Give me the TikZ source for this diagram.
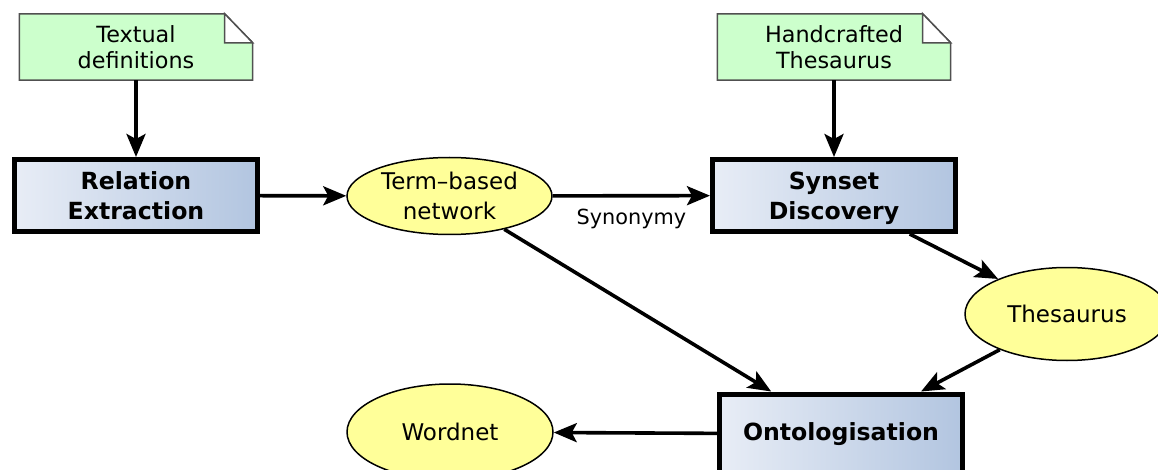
\documentclass[tikz,border=0pt]{standalone}
\usepackage{fontspec}
\setmainfont{DejaVu Sans}
\usetikzlibrary{arrows.meta,shapes.geometric}
\pgfdeclarelayer{background}
\pgfsetlayers{background,main}
\definecolor{notefill}{RGB}{204,255,204}
\definecolor{noteline}{RGB}{80,80,80}
\definecolor{boxleft}{RGB}{232,237,246}
\definecolor{boxright}{RGB}{178,197,224}
\definecolor{datafill}{RGB}{255,255,153}
% invisible rules giving two-line labels a fixed height and depth
\newcommand{\boxtop}{\rule{0pt}{25pt}}
\newcommand{\boxbot}{\rule[-6pt]{0pt}{6pt}}
\newcommand{\notetop}{\rule{0pt}{21.5pt}}
\newcommand{\notebot}{\rule[-4pt]{0pt}{4pt}}
\tikzset{
  procbox/.style={rectangle, draw=black, line width=5pt,
    minimum width=243pt, minimum height=72pt,
    left color=boxleft, right color=boxright,
    font=\bfseries\fontsize{23.6}{30}\selectfont, align=center, inner sep=0pt},
  data/.style={ellipse, draw=black, line width=1.5pt, fill=datafill,
    font=\fontsize{23}{30}\selectfont, align=center, inner sep=0pt},
  note/.style={rectangle, minimum width=233pt, minimum height=66pt,
    font=\fontsize{22.3}{25.5}\selectfont, align=center, inner sep=0pt},
  noteedge/.style={draw=noteline, line width=1.5pt, line join=miter},
  flow/.style={-{Stealth[length=23pt,width=19pt,inset=5pt]}, line width=3.6pt},
  flowlabel/.style={font=\fontsize{20.8}{24}\selectfont, inner sep=0pt},
}
% folded-corner document shape behind a note node
\newcommand{\docshape}[1]{%
  \begin{pgfonlayer}{background}
    \filldraw[noteedge, fill=notefill]
      (#1.north west) -- ([xshift=-28pt]#1.north east)
      -- ([yshift=-29pt]#1.north east) -- (#1.south east)
      -- (#1.south west) -- cycle;
    \filldraw[noteedge, fill=white]
      ([xshift=-28pt]#1.north east) -- ([xshift=-28pt,yshift=-29pt]#1.north east)
      -- ([yshift=-29pt]#1.north east) -- cycle;
  \end{pgfonlayer}}
\begin{document}
\begin{tikzpicture}[x=1pt,y=-1pt]
  \useasboundingbox (0,0) rectangle (1158,470);

  % inputs
  \node[note] (tdef) at (136,47) {\notetop Textual\\definitions\notebot};
  \docshape{tdef}
  \node[note] (hand) at (834,47) {\notetop Handcrafted\\Thesaurus\notebot};
  \docshape{hand}

  % processing steps
  \node[procbox] (rel)  at (136,195.5) {\boxtop Relation\\Extraction\boxbot};
  \node[procbox] (syn)  at (834,195.5) {\boxtop Synset\\Discovery\boxbot};
  \node[procbox, minimum height=80pt] (onto) at (841,434) {Ontologisation};

  % intermediate and final resources
  \node[data, minimum width=205pt, minimum height=77pt] (term) at (449.5,196) {Term–based\\network};
  \node[data, minimum width=204pt, minimum height=93pt] (thes) at (1067,314) {Thesaurus};
  \node[data, minimum width=206pt, minimum height=96pt] (word) at (450,432) {Wordnet};

  % flow
  \draw[flow] (tdef) -- (rel);
  \draw[flow] (hand) -- (syn);
  \draw[flow] (rel) -- (term);
  \draw[flow] (term) -- node[flowlabel, below=11pt] {Synonymy} (syn);
  \draw[flow] (syn) -- (thes);
  \draw[flow] (term) -- (onto);
  \draw[flow] (thes) -- (onto);
  \draw[flow] (onto) -- (word);
\end{tikzpicture}
\end{document}
